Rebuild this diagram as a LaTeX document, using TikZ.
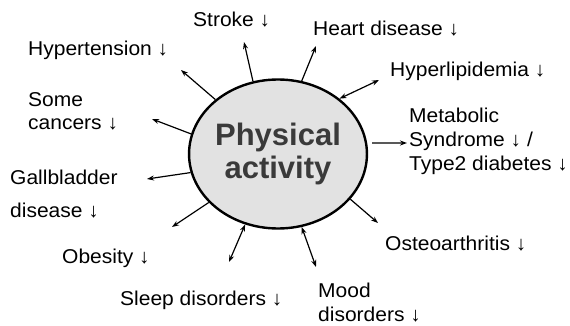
\documentclass[tikz,border=0pt]{standalone}
\usepackage{fontspec}
\setmainfont{Liberation Sans}
\newfontfamily\labelfont[FakeStretch=1.05]{Liberation Sans}
\usetikzlibrary{arrows.meta,shapes.geometric}
\definecolor{hubfill}{HTML}{E2E2E2}
\definecolor{hubtext}{HTML}{3A3A3A}
\tikzset{
  hub/.style={ellipse,draw,line width=2.4pt,fill=hubfill,minimum width=174pt,
    minimum height=149pt,inner sep=0pt,align=center,text=hubtext,
    font=\fontsize{31}{33}\selectfont\bfseries},
  effect/.style={anchor=base west,align=left,inner sep=0pt,
    font=\labelfont\fontsize{20}{24}\selectfont},
  link/.style={line width=1.2pt,-{Stealth[length=7pt,width=5pt]}},
  twoway/.style={line width=1.2pt,{Stealth[length=7pt,width=5pt]}-{Stealth[length=7pt,width=5pt]}}
}

\begin{document}
\begin{tikzpicture}[x=1pt,y=-1pt]
  \useasboundingbox (0,0) rectangle (570,326);
  % Centre
  \node[hub] (pa) at (278,154) {Physical\\activity};
  % Effects (y = baseline of last line)
  \node[effect] (stroke) at (193,27) {Stroke ↓};
  \node[effect] (heart) at (313,36) {Heart disease ↓};
  \node[effect] (hyper) at (28,56) {Hypertension ↓};
  \node[effect] (lipid) at (390,77) {Hyperlipidemia ↓};
  \node[effect] (cancer) at (28,130) {Some\\cancers ↓};
  \node[effect] (metab) at (409,171) {Metabolic\\Syndrome ↓ /\\Type2 diabetes ↓};
  \node[effect] (gall) at (10,217) {Gallbladder\\[9pt]disease ↓};
  \node[effect] (obese) at (62,263) {Obesity ↓};
  \node[effect] (osteo) at (385,250) {Osteoarthritis ↓};
  \node[effect] (sleep) at (120,305) {Sleep disorders ↓};
  \node[effect] (mood) at (318,321) {Mood\\disorders ↓};
  % Arrow ends
  \coordinate (stroke-end) at (244,42);
  \coordinate (heart-end) at (316,46);
  \coordinate (hyper-end) at (181,70);
  \coordinate (lipid-end) at (379,80);
  \coordinate (cancer-end) at (152,119);
  \coordinate (metab-end) at (407,143);
  \coordinate (gall-end) at (147,179);
  \coordinate (obese-end) at (172,227);
  \coordinate (sleep-end) at (229,262);
  \coordinate (mood-end) at (316,267);
  \coordinate (osteo-end) at (378,223);
  % Connectors
  \draw[link] (pa.109) -- (stroke-end);
  \draw[link] (pa.72) -- (heart-end);
  \draw[link] (pa.139) -- (hyper-end);
  \draw[twoway] (pa.42) -- (lipid-end);
  \draw[link] (pa.167) -- (cancer-end);
  \draw[link] ([xshift=5pt]pa.7) -- (metab-end);
  \draw[link] (pa.192) -- (gall-end);
  \draw[link] (pa.215) -- (obese-end);
  \draw[twoway] (pa.245) -- (sleep-end);
  \draw[twoway] (pa.288) -- (mood-end);
  \draw[link] (pa.328) -- (osteo-end);
\end{tikzpicture}
\end{document}
